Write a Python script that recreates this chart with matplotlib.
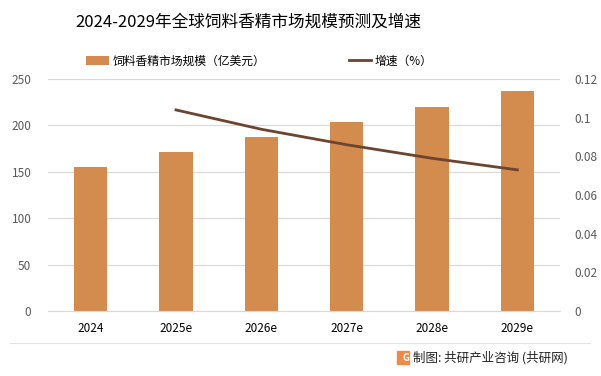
import numpy as np
import matplotlib
matplotlib.use('Agg')
import matplotlib.pyplot as plt
from matplotlib.patches import Rectangle

plt.rcParams['font.family'] = ['Noto Sans CJK SC', 'DejaVu Sans']

years = ['2024', '2025e', '2026e', '2027e', '2028e', '2029e']
market_size = [155.2, 171.5, 187.5, 203.7, 219.8, 237.0]  # 亿美元
growth_years = ['2025e', '2026e', '2027e', '2028e', '2029e']
growth_rate = [0.104, 0.094, 0.086, 0.079, 0.073]

bar_color = '#D38B4E'
line_color = '#6B4530'
tick_color = '#595959'

fig = plt.figure(figsize=(6.01, 3.76), dpi=100)
ax = fig.add_axes([48 / 601, 1 - 311 / 376, (560 - 48) / 601, (311 - 79) / 376])
ax2 = ax.twinx()

x = np.arange(len(years))
bars = ax.bar(x, market_size, width=0.39, color=bar_color, zorder=2,
              label='饲料香精市场规模（亿美元）')
gx = [years.index(y) for y in growth_years]
line, = ax2.plot(gx, growth_rate, color=line_color, linewidth=2, label='增速（%）')

ax.set_xlim(-0.5, len(years) - 0.5)
ax.set_ylim(0, 250)
ax.set_yticks(range(0, 251, 50))
ax2.set_ylim(0, 0.12)
ax2.set_yticks([0, 0.02, 0.04, 0.06, 0.08, 0.1, 0.12])
ax2.set_yticklabels(['0', '0.02', '0.04', '0.06', '0.08', '0.1', '0.12'])
ax.set_xticks(x)
ax.set_xticklabels(years)

ax.grid(axis='y', color='#D9D9D9', linewidth=0.8, zorder=0)
for a in (ax, ax2):
    for s in a.spines.values():
        s.set_visible(False)
    a.tick_params(length=0, labelsize=8.5, colors=tick_color)
ax.spines['bottom'].set_visible(True)
ax.spines['bottom'].set_color('#D9D9D9')
ax.tick_params(axis='x', colors='black', pad=8)
ax.tick_params(axis='y', pad=12)
ax2.tick_params(axis='y', pad=10)

fig.text(0.413, 0.94, '2024-2029年全球饲料香精市场规模预测及增速', ha='center', va='center',
         fontsize=12, color='black')

fig.legend(handles=[bars, line], loc='center', bbox_to_anchor=(0.432, 1 - 61 / 376),
           ncol=2, frameon=False, fontsize=8.5, columnspacing=7.1, handlelength=1.9,
           handletextpad=0.3)

# bottom separator and source
fig.add_artist(plt.Line2D([10 / 601, 590 / 601], [1 - 343 / 376, 1 - 343 / 376],
                          color='#E3E3E3', linewidth=0.8))
fig.add_artist(Rectangle((397 / 601, 1 - 364 / 376), 12 / 601, 13 / 376,
                         color='#F08A4B', transform=fig.transFigure))
fig.text(409 / 601, 1 - 358 / 376, 'G', color='white', fontsize=7, fontweight='bold',
         ha='right', va='center')
fig.text(413 / 601, 1 - 358 / 376, '制图: 共研产业咨询 (共研网)', fontsize=9,
         ha='left', va='center', color='#222222')

plt.savefig('out.png', dpi=100)
